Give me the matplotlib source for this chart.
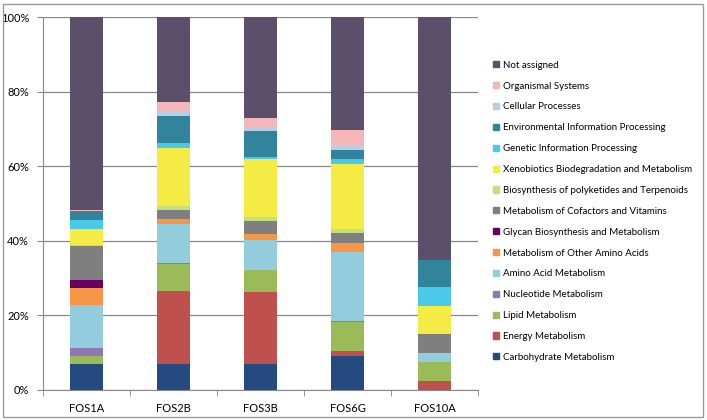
import matplotlib.pyplot as plt
import matplotlib.patches as mpatches
import numpy as np

samples = ["FOS1A", "FOS2B", "FOS3B", "FOS6G", "FOS10A"]

categories = [
    "Carbohydrate Metabolism",
    "Energy Metabolism",
    "Lipid Metabolism",
    "Nucleotide Metabolism",
    "Amino Acid Metabolism",
    "Metabolism of Other Amino Acids",
    "Glycan Biosynthesis and Metabolism",
    "Metabolism of Cofactors and Vitamins",
    "Biosynthesis of polyketides and Terpenoids",
    "Xenobiotics Biodegradation and Metabolism",
    "Genetic Information Processing",
    "Environmental Information Processing",
    "Cellular Processes",
    "Organismal Systems",
    "Not assigned",
]

# percent per sample, order as in samples
carbohydrate = [6.9, 7.1, 7.0, 9.2, 0.0]
energy = [0.0, 19.4, 19.2, 1.2, 2.4]
lipid = [2.2, 7.2, 5.9, 7.9, 5.0]
nucleotide = [2.2, 0.3, 0.2, 0.2, 0.0]
amino_acid = [11.5, 10.5, 8.0, 18.4, 2.4]
other_amino = [4.5, 1.4, 1.4, 2.6, 0.0]
glycan = [2.2, 0.0, 0.0, 0.0, 0.0]
cofactors = [9.1, 2.4, 3.5, 2.6, 5.2]
polyketides = [0.2, 0.9, 1.2, 1.1, 0.0]
xenobiotics = [4.4, 15.8, 15.5, 17.3, 7.5]
genetic = [2.3, 1.1, 0.6, 1.3, 5.0]
environmental = [2.4, 7.4, 6.9, 2.6, 7.3]
cellular = [0.2, 1.1, 1.2, 1.3, 0.0]
organismal = [0.2, 2.5, 2.3, 4.1, 0.0]
not_assigned = [51.7, 22.9, 27.1, 30.2, 65.2]

colors = [
    "#244a80", "#c0504d", "#9bbb59", "#8e77b5", "#93cddd", "#f79646",
    "#660066", "#7f7f7f", "#c3df7e", "#f5eb45", "#4bc9e8", "#31849b",
    "#b9cde5", "#f4b7b7", "#5c4f6b",
]

series = [carbohydrate, energy, lipid, nucleotide, amino_acid, other_amino,
          glycan, cofactors, polyketides, xenobiotics, genetic, environmental,
          cellular, organismal, not_assigned]

plt.rcParams['font.family'] = ['Lato', 'DejaVu Sans']

fig = plt.figure(figsize=(7.07, 4.2), dpi=100)
ax = fig.add_axes([43 / 707, 30 / 420, 435 / 707, 373 / 420])

x = np.arange(len(samples))
bottom = np.zeros(len(samples))
handles = []
for name, vals, c in zip(categories, series, colors):
    vals = np.array(vals)
    ax.bar(x, vals, width=0.39, bottom=bottom, color=c, linewidth=0)
    bottom += vals
    handles.append(mpatches.Patch(color=c, label=name))

ax.set_xlim(-0.5, len(samples) - 0.5)
ax.set_ylim(0, 100)
ax.set_yticks([0, 20, 40, 60, 80, 100])
ax.set_yticklabels(["0%", "20%", "40%", "60%", "80%", "100%"], fontsize=8)
ax.set_xticks(x)
ax.set_xticklabels(samples, fontsize=8)
ax.set_xticks(np.arange(-0.5, len(samples)), minor=True)
ax.tick_params(axis='x', which='major', length=0, pad=9)
ax.tick_params(axis='x', which='minor', length=4, color='#888888')
ax.tick_params(axis='y', length=4, color='#888888', pad=6)
ax.grid(axis='y', color='#888888', linewidth=0.9)
ax.set_axisbelow(True)
for s in ['top', 'right']:
    ax.spines[s].set_visible(False)
for s in ['left', 'bottom']:
    ax.spines[s].set_color('#888888')

fig.legend(handles[::-1], categories[::-1], loc='upper left',
           bbox_to_anchor=(484 / 707, 1 - 52 / 420), frameon=False,
           fontsize=7, handlelength=0.6, handleheight=0.6,
           handletextpad=0.5, labelspacing=1.22)

fig.patches.append(mpatches.Rectangle((3 / 707, 3 / 420), 700 / 707, 413 / 420,
                                      transform=fig.transFigure, fill=False,
                                      edgecolor='#999999', linewidth=1))

fig.savefig("out.png", dpi=100)
